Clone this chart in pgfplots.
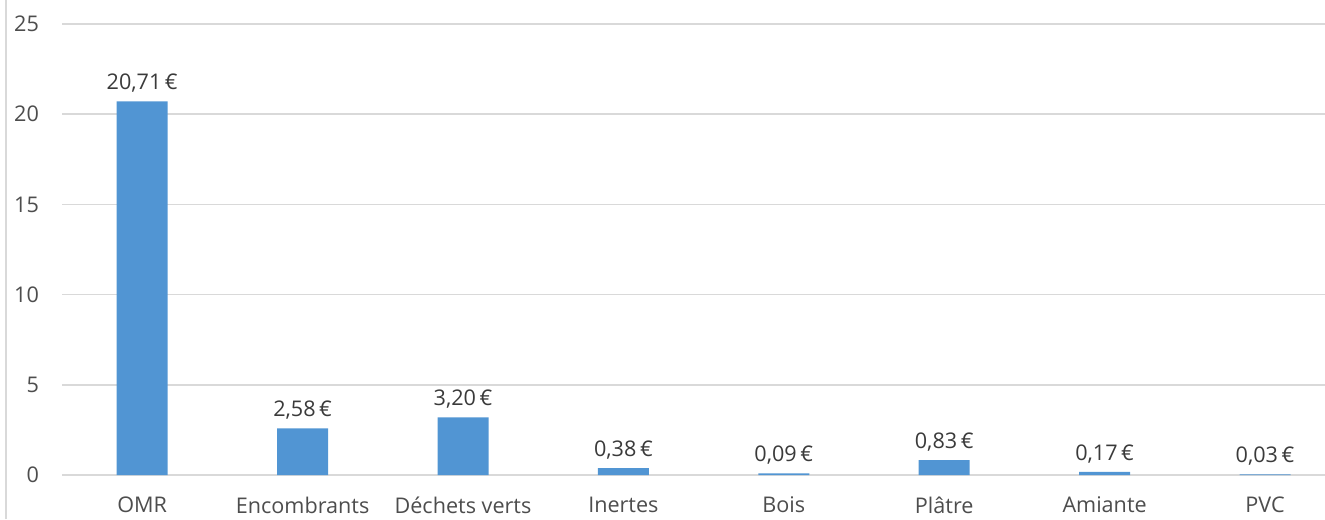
\documentclass[border=0pt]{standalone}
\usepackage{fontspec}
\setmainfont{Open Sans}
\usepackage{pgfplots}
\pgfplotsset{compat=1.18}

\definecolor{barblue}{HTML}{5195D3}
\definecolor{gridgray}{HTML}{D9D9D9}
\definecolor{labelgray}{HTML}{4D4D4D}
\definecolor{valgray}{HTML}{3A3A3A}

\begin{document}
\begin{tikzpicture}
  \begin{axis}[
    scale only axis,
    width=631.5pt, height=225.5pt,
    ymin=0, ymax=25,
    ytick={0,5,...,25},
    xmin=-0.5, xmax=7.374,
    xtick={0,...,7},
    xticklabels={OMR, Encombrants, Déchets verts, Inertes, Bois, Plâtre, Amiante, PVC},
    axis line style={draw=none},
    major tick length=0pt,
    ymajorgrids,
    grid style={gridgray, line width=0.8pt},
    /pgf/number format/assume math mode=true,
    tick label style={font=\fontsize{10.8pt}{12pt}\selectfont, text=labelgray},
    yticklabel style={xshift=-8pt},
    xticklabel style={yshift=-7.5pt},
    clip=false,
  ]
    \addplot[ybar, bar width=25.5pt, fill=barblue, draw=none,
      nodes near coords={\pgfmathprintnumber[fixed, fixed zerofill, precision=2, use comma]{\pgfplotspointmeta}\,€},
      nodes near coords style={font=\fontsize{10.8pt}{12pt}\selectfont, text=valgray, anchor=south, yshift=1pt},
    ] coordinates {
      (0, 20.71)
      (1, 2.58)
      (2, 3.20)
      (3, 0.38)
      (4, 0.09)
      (5, 0.83)
      (6, 0.17)
      (7, 0.03)
    };
    \coordinate (bl) at (rel axis cs:0,0);
    \coordinate (tr) at (rel axis cs:1,1);
  \end{axis}
  \draw[gridgray, line width=0.8pt] ([xshift=-28pt,yshift=-22pt]bl) -- ([xshift=-28pt]bl |- tr) -- ++(0,12pt);
  \pgfresetboundingbox
  \path ([xshift=-31pt,yshift=-22pt]bl) rectangle ([yshift=12pt]tr);
\end{tikzpicture}
\end{document}
